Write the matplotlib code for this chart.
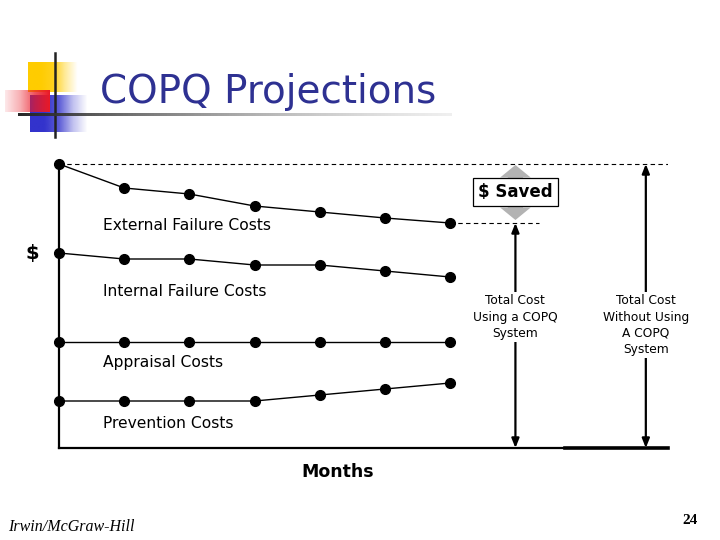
import numpy as np
import matplotlib.pyplot as plt
from matplotlib.patches import FancyArrowPatch

# cost curves over the months (arbitrary $ units)
months = np.arange(7)
external = [284, 260, 254, 242, 236, 230, 225]
internal = [195, 189, 189, 183, 183, 177, 171]
appraisal = [106, 106, 106, 106, 106, 106, 106]
prevention = [47, 47, 47, 47, 53, 59, 65]
series = [external, internal, appraisal, prevention]
labels = ['External Failure Costs', 'Internal Failure Costs', 'Appraisal Costs', 'Prevention Costs']
label_y = [223, 157, 85, 25]

total_with = external[-1]
total_without = external[0]
with_x = 7
without_x = 9
x_end = 9.34

fig = plt.figure(figsize=(7.2, 5.4), dpi=100)

# background layer in pixel coords for the slide decorations
bg = fig.add_axes([0, 0, 1, 1])
bg.set_xlim(0, 720)
bg.set_ylim(540, 0)
bg.axis('off')

def grad_rect(x0, x1, y0, y1, rgb, alpha_cols, z):
    a = np.interp(np.linspace(0, 1, 64), np.linspace(0, 1, len(alpha_cols)), alpha_cols)
    img = np.zeros((2, 64, 4))
    img[..., :3] = rgb
    img[..., 3] = a
    bg.imshow(img, extent=(x0, x1, y1, y0), aspect='auto', zorder=z, interpolation='bilinear')

grad_rect(28, 78, 62, 92, (1.0, 0.8, 0.0), [1, 1, 0.9, 0.4, 0], 1)
grad_rect(30, 88, 95, 132, (0.2, 0.2, 0.8), [1, 1, 0.8, 0.3, 0], 2)
grad_rect(5, 50, 90, 112, (0.92, 0.1, 0.15), [0.1, 0.35, 0.75, 1], 3)
bg.plot([55, 55], [53, 137], color='#222222', lw=1.8, zorder=4)
line = np.zeros((1, 128, 4))
line[0, :, :3] = np.linspace(0.15, 0.8, 128)[:, None]
line[0, :, 3] = np.linspace(1, 0.3, 128)
bg.imshow(line, extent=(18, 452, 116.5, 113.5), aspect='auto', zorder=4)
bg.set_xlim(0, 720)
bg.set_ylim(540, 0)

fig.text(100 / 720, 1 - 92 / 540, 'COPQ Projections', color='#2e3192',
         fontsize=28, va='center', ha='left')
fig.text(8 / 720, 1 - 527 / 540, 'Irwin/McGraw-Hill', family='Liberation Serif',
         style='italic', fontsize=11.5, va='center')
fig.text(690 / 720, 1 - 521 / 540, '24', family='Liberation Serif',
         fontweight='bold', fontsize=11, ha='center', va='center')

# chart
ax = fig.add_axes([59 / 720, (540 - 448) / 540, (668 - 59) / 720, 300 / 540])
ax.set_xlim(0, x_end)
ax.set_ylim(0, 300)
ax.axis('off')

for s, lab, ly in zip(series, labels, label_y):
    ax.plot(months, s, color='black', lw=1, marker='o', markersize=7, clip_on=False)
    ax.text(0.675, ly, lab, fontsize=11.2, va='center', ha='left')

ax.plot([0, 0], [0, total_without], color='black', lw=1.6, clip_on=False)
ax.plot([0, 7.73], [0, 0], color='black', lw=1.6, clip_on=False)
ax.plot([7.76, x_end], [0, 0], color='black', lw=2.6, clip_on=False)

ax.plot([0, x_end], [total_without] * 2, color='black', lw=0.8, ls=(0, (4, 3)))
ax.plot([6, 7.36], [total_with] * 2, color='black', lw=0.8, ls=(0, (4, 3)))

for xx, top in [(with_x, total_with), (without_x, total_without)]:
    ax.add_patch(FancyArrowPatch((xx, 0), (xx, top), arrowstyle='<|-|>,head_length=0.55,head_width=0.22',
                                 mutation_scale=10, lw=1.6, color='black',
                                 shrinkA=0, shrinkB=0, zorder=2))

ax.text(with_x, 131, 'Total Cost\nUsing a COPQ\nSystem', fontsize=8.8, ha='center', va='center',
        linespacing=1.3, zorder=3, bbox=dict(fc='white', ec='none', pad=2))
ax.text(without_x, 123, 'Total Cost\nWithout Using\nA COPQ\nSystem', fontsize=8.8, ha='center',
        va='center', linespacing=1.3, zorder=3, bbox=dict(fc='white', ec='none', pad=2))

# grey "saved" double arrow
mid = (total_with + total_without) / 2
for end in [total_without - 1, total_with + 3]:
    ax.add_patch(FancyArrowPatch((with_x, mid), (with_x, end),
                                 arrowstyle='simple,head_length=0.9,head_width=2.2,tail_width=1.1',
                                 mutation_scale=10, color='#b3b3b3', lw=0,
                                 shrinkA=0, shrinkB=0, zorder=3))
ax.text(with_x, 256, '$ Saved', fontsize=12, fontweight='bold', ha='center', va='center', zorder=4,
        bbox=dict(boxstyle='square,pad=0.3', fc='white', ec='black', lw=0.9))

ax.text(-0.41, 195, '$', fontsize=14, fontweight='bold', ha='center', va='center', clip_on=False)
ax.text(4.28, -24, 'Months', fontsize=12.5, fontweight='bold', ha='center', va='center', clip_on=False)

fig.savefig('out.png', dpi=100)
